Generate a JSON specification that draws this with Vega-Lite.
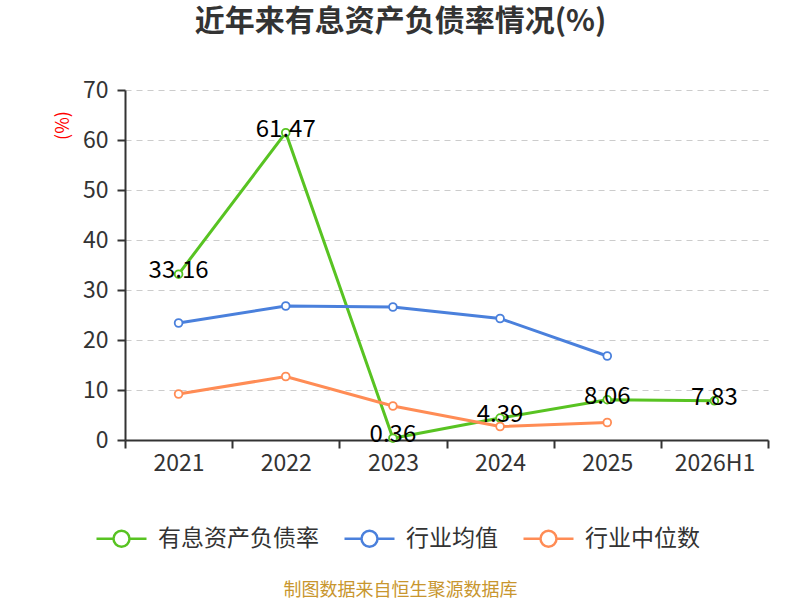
{
  "$schema": "https://vega.github.io/schema/vega-lite/v6.json",
  "width": 643,
  "height": 350,
  "autosize": {"type": "none"},
  "padding": {"left": 125, "top": 90, "right": 32, "bottom": 160},
  "background": "white",
  "config": {
    "font": "Noto Sans CJK SC",
    "view": {"stroke": null}
  },
  "title": {
    "text": "近年来有息资产负债率情况(%)",
    "fontSize": 30,
    "fontWeight": "bold",
    "color": "#333333",
    "anchor": "middle",
    "dx": -46,
    "offset": 42
  },
  "data": {
    "values": [
      {"year": "2021", "series": "有息资产负债率", "value": 33.16},
      {"year": "2022", "series": "有息资产负债率", "value": 61.47},
      {"year": "2023", "series": "有息资产负债率", "value": 0.36},
      {"year": "2024", "series": "有息资产负债率", "value": 4.39},
      {"year": "2025", "series": "有息资产负债率", "value": 8.06},
      {"year": "2026H1", "series": "有息资产负债率", "value": 7.83},
      {"year": "2021", "series": "行业均值", "value": 23.4},
      {"year": "2022", "series": "行业均值", "value": 26.8},
      {"year": "2023", "series": "行业均值", "value": 26.6},
      {"year": "2024", "series": "行业均值", "value": 24.3},
      {"year": "2025", "series": "行业均值", "value": 16.8},
      {"year": "2021", "series": "行业中位数", "value": 9.2},
      {"year": "2022", "series": "行业中位数", "value": 12.7},
      {"year": "2023", "series": "行业中位数", "value": 6.8},
      {"year": "2024", "series": "行业中位数", "value": 2.7},
      {"year": "2025", "series": "行业中位数", "value": 3.5}
    ]
  },
  "encoding": {
    "x": {
      "field": "year",
      "type": "ordinal",
      "sort": null,
      "scale": {"type": "band", "paddingInner": 0, "paddingOuter": 0},
      "axis": {
        "title": "制图数据来自恒生聚源数据库",
        "titleColor": "#c8962e",
        "titleFontSize": 18,
        "titleFontWeight": "normal",
        "titleX": 275,
        "titleY": 150,
        "titleBaseline": "middle",
        "titleAlign": "center",
        "labelAngle": 0,
        "labelFontSize": 23,
        "labelColor": "#333333",
        "labelPadding": 4,
        "tickBand": "extent",
        "tickSize": 8,
        "tickWidth": 2,
        "tickColor": "#333333",
        "domainColor": "#333333",
        "domainWidth": 2,
        "grid": false
      }
    },
    "y": {
      "field": "value",
      "type": "quantitative",
      "scale": {"domain": [0, 70]},
      "axis": {
        "title": "(%)",
        "titleColor": "#ff0000",
        "titleFontSize": 18,
        "titleFontWeight": "normal",
        "titleX": -62,
        "titleY": 35,
        "titleAlign": "center",
        "titleBaseline": "middle",
        "values": [0, 10, 20, 30, 40, 50, 60, 70],
        "labelFontSize": 23,
        "labelColor": "#333333",
        "labelPadding": 9,
        "tickSize": 8,
        "tickWidth": 2,
        "tickColor": "#333333",
        "domainColor": "#333333",
        "domainWidth": 2,
        "grid": true,
        "gridColor": "#cccccc",
        "gridDash": [6, 5],
        "gridWidth": 1.2
      }
    }
  },
  "layer": [
    {
      "mark": {
        "type": "line",
        "strokeWidth": 3,
        "point": {"filled": false, "fill": "white", "size": 60, "strokeWidth": 1.8}
      },
      "encoding": {
        "color": {
          "field": "series",
          "type": "nominal",
          "scale": {
            "domain": ["有息资产负债率", "行业均值", "行业中位数"],
            "range": ["#58c322", "#4a80dc", "#ff8c55"]
          },
          "legend": {
            "title": null,
            "orient": "none",
            "direction": "horizontal",
            "legendX": -30,
            "legendY": 422,
            "symbolType": "M-1,0H-0.32M0.32,0H1M0.32,0A0.32,0.32,0,1,1,-0.32,0A0.32,0.32,0,1,1,0.32,0Z",
            "symbolSize": 2500,
            "symbolStrokeWidth": 2.5,
            "symbolFillColor": "white",
            "labelFontSize": 23,
            "labelLimit": 400,
            "labelColor": "#333333",
            "labelOffset": 10,
            "columnPadding": 20
          }
        }
      }
    },
    {
      "transform": [{"filter": "datum.series == '有息资产负债率'"}],
      "mark": {
        "type": "text",
        "fontSize": 24,
        "color": "black",
        "baseline": "middle",
        "align": "center",
        "dy": -3
      },
      "encoding": {
        "text": {"field": "value", "type": "quantitative", "format": ".2f"}
      }
    }
  ]
}
